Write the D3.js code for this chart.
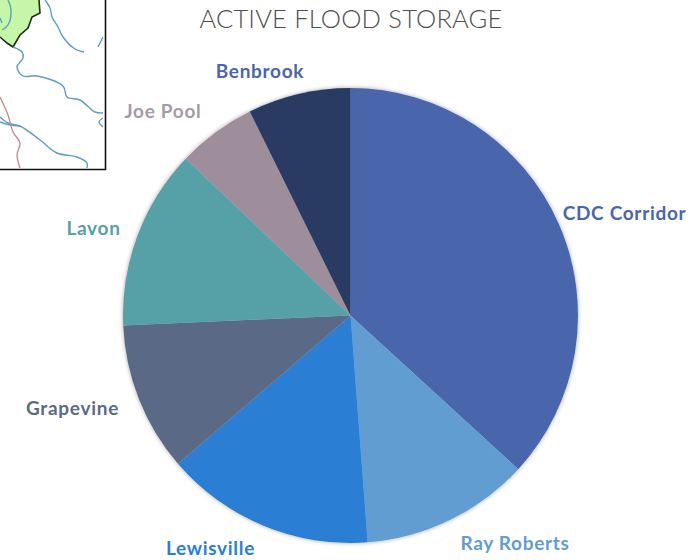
<!DOCTYPE html>
<html>
<head>
<meta charset="utf-8">
<script src="https://cdn.jsdelivr.net/npm/d3@7"></script>
<style>
  html, body { margin: 0; padding: 0; background: #fff; }
  svg { display: block; }
  text { font-family: Lato, "Open Sans", sans-serif; }
</style>
</head>
<body>
<div id="vis"></div>
<script>
// Chart data (percent of active flood storage)
const CATEGORIES = ["CDC Corridor", "Ray Roberts", "Lewisville", "Grapevine", "Lavon", "Joe Pool", "Benbrook"];
const STORAGE = [36.8, 12.0, 14.9, 10.6, 12.8, 5.6, 7.3];
const COLORS = ["#4a66ac", "#629dd1", "#297fd5", "#5a6b86", "#57a0a8", "#9e8e9c", "#2b3a63"];
const LABEL_COLORS = ["#4a66ac", "#629dd1", "#297fd5", "#5a6b86", "#57a0a8", "#a59aa6", "#4a66ac"];
const TITLE = "ACTIVE FLOOD STORAGE";

// Label anchor spots, same order as the categories
const LABEL_X = [624.5, 515, 210.5, 72.5, 93.5, 163, 260];
const LABEL_Y = [220, 550, 555, 415, 235, 118, 78];

// Inset map outlines
const BASIN = [[0,0],[39,0],[40,13],[32,17],[28,28],[20,35],[13,47],[7,43],[0,37]];
const RIVERS = [
  [[45,0],[50,8],[52,17],[58,27],[63,37],[75,49],[84,52]],
  [[13,47],[22,52],[23,58],[17,67],[23,76],[37,76],[63,86],[67,97],[80,100],[95,112],[103,113]],
  [[0,117],[8,123],[20,126],[40,140],[57,153],[77,157],[87,163],[87,168]],
  [[0,122],[10,125],[20,126]],
  [[103,37],[98,47]],
  [[103,118],[99,122],[103,127]],
  [[8,0],[11,10],[8,25],[2,30]],
  [[0,18],[2,23]]
];
const ROAD = [[0,97],[8,115],[13,132],[20,143],[17,155],[20,168]];

const WIDTH = 700;
const HEIGHT = 560;
const CX = 350.5;
const CY = 315.5;
const RADIUS = 227.5;

const FRAME = d3.select("#vis")
  .append("svg")
  .attr("width", WIDTH)
  .attr("height", HEIGHT);

// Soft shadow round the pie, slight blur for the scanned map
const defs = FRAME.append("defs");
defs.append("filter")
  .attr("id", "shadow")
  .attr("x", "-10%").attr("y", "-10%")
  .attr("width", "120%").attr("height", "120%")
  .append("feDropShadow")
  .attr("dx", 0).attr("dy", 0)
  .attr("stdDeviation", 2)
  .attr("flood-color", "#000")
  .attr("flood-opacity", 0.35);
defs.append("filter")
  .attr("id", "soft")
  .append("feGaussianBlur")
  .attr("stdDeviation", 0.4);

// Inset map in the top left corner
const line = d3.line().curve(d3.curveCatmullRom);
const MAP = FRAME.append("g").attr("filter", "url(#soft)");

MAP.append("path")
  .attr("d", d3.line()(BASIN))
  .attr("fill", "#c6f6a8");
MAP.append("path")
  .attr("d", d3.line().curve(d3.curveLinear)(BASIN.slice(1)))
  .attr("fill", "none")
  .attr("stroke", "#1c2a20")
  .attr("stroke-width", 1.6);

MAP.selectAll(".river")
  .data(RIVERS)
  .enter()
  .append("path")
  .attr("class", "river")
  .attr("d", (d) => line(d))
  .attr("fill", "none")
  .attr("stroke", "#5f9fc2")
  .attr("stroke-width", 1.4);

MAP.append("path")
  .attr("d", line(ROAD))
  .attr("fill", "none")
  .attr("stroke", "#c4868e")
  .attr("stroke-width", 1.3);

// Map frame: right and bottom edges only, the rest is cropped
FRAME.append("path")
  .attr("d", d3.line()([[105.5, 0], [105.5, 169.5], [0, 169.5]]))
  .attr("fill", "none")
  .attr("stroke", "#111")
  .attr("stroke-width", 1.6);

// Title
FRAME.append("text")
  .attr("x", 351)
  .attr("y", 28)
  .attr("text-anchor", "middle")
  .attr("font-size", 25.5)
  .attr("font-weight", 300)
  .attr("letter-spacing", 0.2)
  .attr("fill", "#4f4f4f")
  .text(TITLE);

// Pie
const pie = d3.pie().sort(null)(STORAGE);
const arc = d3.arc().innerRadius(0).outerRadius(RADIUS);
const color = d3.scaleOrdinal().domain(CATEGORIES).range(COLORS);

FRAME.append("g")
  .attr("transform", "translate(" + CX + "," + CY + ")")
  .attr("filter", "url(#shadow)")
  .selectAll("path")
  .data(pie)
  .enter()
  .append("path")
  .attr("d", arc)
  .attr("fill", (d, i) => color(CATEGORIES[i]));

// Slice labels
FRAME.append("g")
  .selectAll("text")
  .data(CATEGORIES)
  .enter()
  .append("text")
  .attr("x", (d, i) => LABEL_X[i])
  .attr("y", (d, i) => LABEL_Y[i])
  .attr("text-anchor", "middle")
  .attr("font-size", 19)
  .attr("font-weight", 700)
  .attr("letter-spacing", 0.7)
  .attr("fill", (d, i) => LABEL_COLORS[i])
  .text((d) => d);
</script>
</body>
</html>
